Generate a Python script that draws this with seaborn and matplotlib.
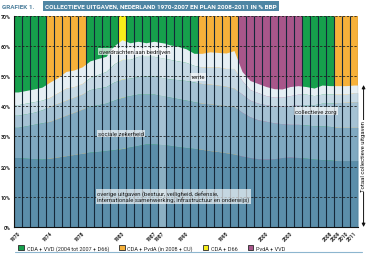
import numpy as np
import pandas as pd
import seaborn as sns
import matplotlib.pyplot as plt

# --- data ---
years = [str(y) for y in range(1970, 1988)] + ['1987*'] + [str(y) for y in range(1988, 2012)]
coalition = (['CDA + VVD (2004 tot 2007 + D66)'] * 4 + ['CDA + PvdA (in 2008 + CU)'] * 5
             + ['CDA + VVD (2004 tot 2007 + D66)'] * 4 + ['CDA + D66'] * 1
             + ['CDA + VVD (2004 tot 2007 + D66)'] * 9 + ['CDA + PvdA (in 2008 + CU)'] * 5
             + ['PvdA + VVD'] * 8 + ['CDA + VVD (2004 tot 2007 + D66)'] * 4
             + ['CDA + PvdA (in 2008 + CU)'] * 3)
coalition_colors = {'CDA + VVD (2004 tot 2007 + D66)': '#16a04c',
                    'CDA + PvdA (in 2008 + CU)': '#f6b13a',
                    'CDA + D66': '#f7ee1a',
                    'PvdA + VVD': '#a8568a'}

# cumulative levels (% BBP), bottom to top
overige_top = [23.0, 22.8, 22.6, 22.5, 22.8, 23.2, 23.6, 24.0, 24.4, 24.8, 25.0, 25.3, 25.6, 26.0, 26.5,
               27.0, 27.5, 27.5, 27.3, 27.0, 26.6, 26.3, 26.0, 25.7, 25.3, 25.0, 24.6, 24.2, 23.5, 23.0,
               22.6, 22.5, 22.6, 23.0, 23.2, 23.0, 22.8, 22.5, 22.3, 22.2, 22.0, 22.0, 22.0]
soczek_top = [33.0, 33.5, 34.0, 34.5, 35.0, 36.0, 37.0, 38.0, 39.0, 40.0, 40.5, 41.0, 42.0, 43.0, 43.5,
              44.0, 44.0, 44.0, 43.5, 43.0, 42.5, 42.0, 41.5, 41.0, 40.8, 40.5, 40.2, 40.0, 38.0, 36.5,
              35.5, 35.0, 34.5, 34.2, 34.0, 34.0, 33.8, 33.5, 33.5, 33.3, 33.0, 33.0, 33.0]
zorg_top = [37.0, 37.5, 38.0, 38.8, 40.0, 41.0, 42.0, 43.0, 44.0, 45.5, 46.0, 46.5, 48.0, 49.0, 49.3,
            49.8, 50.0, 50.0, 49.5, 49.0, 48.8, 48.5, 48.0, 47.5, 47.3, 47.0, 46.6, 46.0, 44.0, 42.0,
            41.0, 40.5, 40.0, 40.0, 40.2, 40.5, 40.5, 40.5, 41.0, 41.0, 41.2, 41.3, 41.5]
rente_top = [40.5, 41.0, 41.5, 42.0, 43.0, 44.5, 46.0, 46.5, 47.5, 49.5, 50.5, 51.5, 54.0, 55.5, 55.5,
             56.5, 56.5, 56.5, 56.0, 55.5, 55.0, 54.5, 53.5, 53.0, 53.0, 53.0, 52.5, 52.5, 48.5, 45.5,
             44.5, 43.5, 43.0, 43.0, 43.5, 44.0, 44.0, 43.5, 44.0, 44.0, 44.0, 44.0, 44.5]
totaal = [44.7, 45.2, 45.7, 46.3, 48.0, 49.5, 51.5, 52.0, 53.0, 55.0, 55.8, 56.5, 60.0, 62.0, 61.0,
          61.5, 61.0, 61.5, 61.0, 60.3, 59.8, 59.0, 57.5, 57.5, 58.0, 57.8, 57.6, 58.4, 51.5, 48.5,
          47.5, 46.5, 45.8, 45.7, 46.5, 46.8, 46.5, 46.0, 47.0, 46.8, 46.8, 46.8, 47.0]
layer_colors = ['#5b8eaa', '#80a9c1', '#a5c2d4', '#c6d9e5', '#e6eff4']

shown_ticks = ['1970', '1974', '1978', '1983', '1987', '1987*', '1990', '1995', '2000', '2003',
               '2008', '2009', '2010', '2011']
break_year = '1987*'
ceiling = 70

df = pd.DataFrame({'jaar': years, 'coalitie': coalition, 'hoogte': ceiling})

# --- figure ---
sns.set_style('white')
plt.rcParams['font.family'] = ['Roboto', 'DejaVu Sans']
fig = plt.figure(figsize=(3.68, 2.55), dpi=100)
ax = fig.add_axes([0.038, 0.106, 0.935, 0.829])

sns.barplot(data=df, x='jaar', y='hoogte', hue='coalitie', palette=coalition_colors,
            dodge=False, width=1.0, linewidth=0, saturation=1, ax=ax)

n = len(years)
pos = np.arange(n)
xs = np.r_[-0.5, pos, n - 0.5]
levels = [np.zeros(n), overige_top, soczek_top, zorg_top, rente_top, totaal]
ext = [np.r_[l[0], l, l[-1]] for l in levels]
for i, col in enumerate(layer_colors):
    ax.fill_between(xs, ext[i], ext[i + 1], color=col, lw=0, zorder=1.5)

# lighter column marking the 1987 revision
bi = years.index(break_year)
ax.bar(bi, totaal[bi], width=0.9, color='white', alpha=0.3, lw=0, zorder=1.6)

# year separators
ax.vlines(np.arange(n + 1) - 0.5, 0, ceiling, color='#15283a', lw=0.8, zorder=2)

ax.set_xlim(-0.5, n - 0.5)
ax.set_ylim(0, ceiling)
ax.set_yticks(range(0, 71, 10))
ax.set_yticklabels([f'{v}%' for v in range(0, 71, 10)], fontsize=3.8, fontweight='bold')
ax.yaxis.grid(True, linestyle=(0, (3, 2)), color='#1a1a1a', lw=0.55)
ax.set_axisbelow(False)
ax.set_xticks(pos)
ax.set_xticklabels([y.replace('*', '') if y in shown_ticks else '' for y in years],
                   rotation=45, ha='right', fontsize=3.6, fontweight='bold', rotation_mode='anchor')
ax.tick_params(axis='x', length=2, width=0.5, direction='inout', pad=1)
ax.tick_params(axis='y', length=2, width=0.5, pad=0.5)
ax.set_xlabel('')
ax.set_ylabel('')
for s in ['top', 'right']:
    ax.spines[s].set_visible(False)
for s in ['left', 'bottom']:
    ax.spines[s].set_color('#111111')
    ax.spines[s].set_linewidth(0.8)

# layer labels
box = dict(facecolor='white', alpha=0.65, edgecolor='none', pad=0.8)
lab_kw = dict(fontsize=4.3, color='#1a1a1a', zorder=5, bbox=box, va='center')
ax.text(10.1, 58.0, 'overdrachten aan bedrijven', **lab_kw)
ax.text(21.7, 49.7, 'rente', **lab_kw)
ax.text(10.0, 31.0, 'sociale zekerheid', **lab_kw)
ax.text(34.6, 38.4, 'collectieve zorg', **lab_kw)
ax.text(9.9, 10.0, 'overige uitgaven (bestuur, veiligheid, defensie,\n'
        'internationale samenwerking, infrastructuur en onderwijs)', linespacing=1.1, **lab_kw)

# total arrow at the right
ax.annotate('', xy=(1.016, totaal[-1]), xytext=(1.016, 0),
            xycoords=('axes fraction', 'data'), textcoords=('axes fraction', 'data'),
            arrowprops=dict(arrowstyle='<|-|>', color='#111111', lw=0.7,
                            mutation_scale=5, shrinkA=0, shrinkB=0), annotation_clip=False)
ax.text(1.016, totaal[-1] / 2, 'Totaal collectieve uitgaven', transform=ax.get_yaxis_transform(),
        rotation=90, ha='center', va='center', fontsize=4.3, color='#111111', clip_on=False,
        bbox=dict(facecolor='white', edgecolor='none', pad=0.6))

# legend
sns.move_legend(ax, 'upper left', bbox_to_anchor=(0.006, -0.075), ncol=4, frameon=False, title=None,
                fontsize=4.0, handlelength=1.0, handleheight=1.0, handletextpad=0.5,
                columnspacing=1.8, borderaxespad=0)
for h in ax.get_legend().legend_handles:
    h.set_edgecolor('#2a2a2a')
    h.set_linewidth(0.6)

# title
fig.text(0.006, 0.972, 'GRAFIEK 1.', fontsize=4.6, fontweight='bold', color='#4d7f9c', va='center')
fig.text(0.122, 0.972, 'COLLECTIEVE UITGAVEN, NEDERLAND 1970-2007 EN PLAN 2008-2011 IN % BBP',
         fontsize=4.6, fontweight='bold', color='white', va='center',
         bbox=dict(facecolor='#4f86a4', edgecolor='none', pad=1.6))
fig.add_artist(plt.Line2D([0.04, 0.985], [0.008, 0.008], color='#8db6cf', lw=0.8))

fig.savefig('out.png', dpi=100)
